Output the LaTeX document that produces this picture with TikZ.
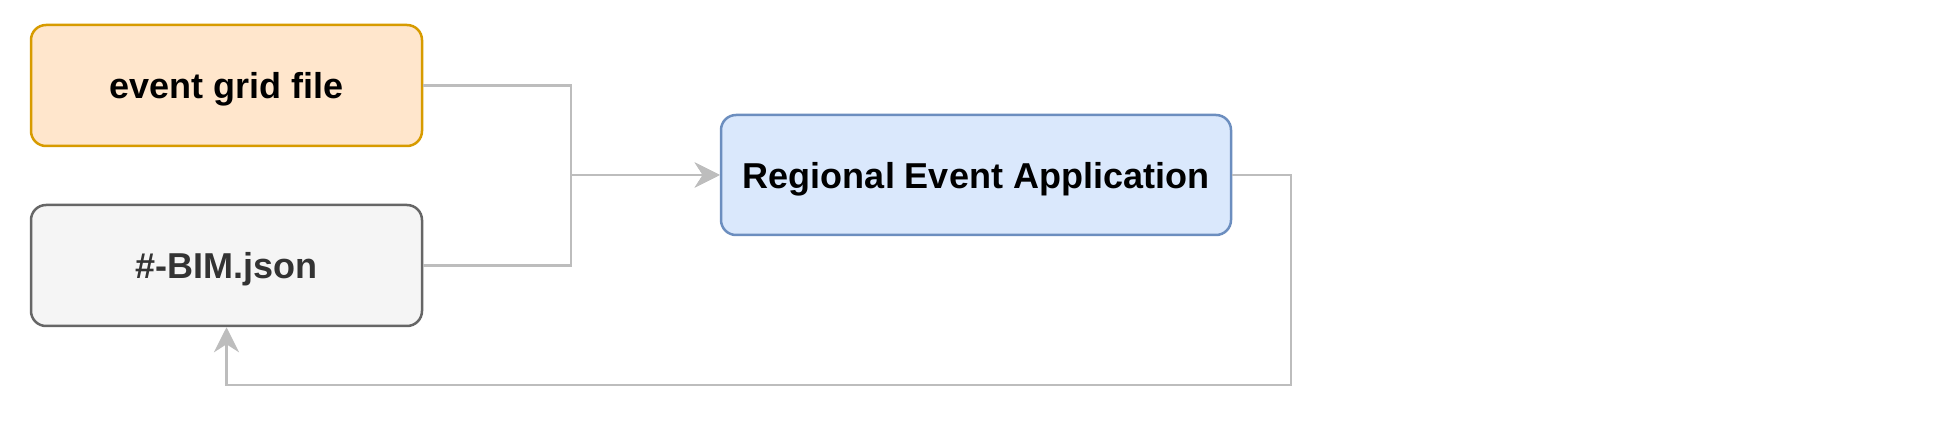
\documentclass[tikz,border=0pt]{standalone}
\usepackage{fontspec}
\setmainfont{Liberation Sans}
\usetikzlibrary{arrows.meta}
\definecolor{orfill}{HTML}{FFE6CC}
\definecolor{ordraw}{HTML}{D79B00}
\definecolor{grfill}{HTML}{F5F5F5}
\definecolor{grdraw}{HTML}{666666}
\definecolor{grtext}{HTML}{333333}
\definecolor{blfill}{HTML}{DAE8FC}
\definecolor{bldraw}{HTML}{6C8EBF}
\definecolor{edgecol}{HTML}{BDBDBD}
\tikzset{
  box/.style={rounded corners=15pt, line width=2.5pt, inner sep=0pt,
    text height=34pt, text depth=7pt,
    font=\fontsize{36}{42}\selectfont\bfseries},
  edge/.style={draw=edgecol, line width=2.8pt,
    -{Stealth[length=25pt, width=25pt, inset=8pt]}},
}
\begin{document}
\begin{tikzpicture}[x=1pt,y=-1pt]
\useasboundingbox (0,0) rectangle (1952,427);
\node[box, draw=ordraw, fill=orfill, minimum width=391pt, minimum height=121pt] (egf) at (226.5,85.5) {event grid file};
\node[box, draw=grdraw, fill=grfill, text=grtext, minimum width=391pt, minimum height=121pt] (bim) at (226.5,265.5) {\#-BIM.json};
\node[box, draw=bldraw, fill=blfill, minimum width=510pt, minimum height=120pt] (rea) at (976,175) {Regional Event Application};
\coordinate (j) at (571,175);
\coordinate (r) at (1291,385);
\draw[edge] (egf.east) -| (j) -- (rea.west);
\draw[edge] (bim.east) -| (j) -- (rea.west);
\draw[edge] (rea.east) -| (r) -| (bim.south);
\end{tikzpicture}
\end{document}
